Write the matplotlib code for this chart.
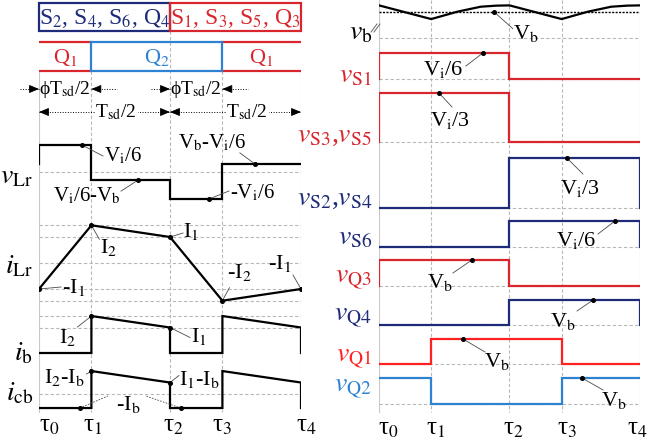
import matplotlib
matplotlib.use("Agg")
import matplotlib.pyplot as plt
from matplotlib.patches import Rectangle

plt.rcParams['font.family'] = ['Liberation Serif', 'DejaVu Serif']
plt.rcParams['mathtext.fontset'] = 'stix'

NAVY = '#1d2b78'
RED = '#d8262c'
RED2 = '#ff2020'
BLUE = '#2e82d2'
GRID = '#b8b8b8'
LEAD = '#4a4a4a'

# ---------------- data ----------------
tau = [0.0, 0.2, 0.5, 0.7, 1.0]
tau_labels = ['τ$_0$', 'τ$_1$', 'τ$_2$', 'τ$_3$', 'τ$_4$']

# v_Lr plateau in each interval (units of V_i/6, V_b ~ 1.3 V_i/6)
vLr_steps = [1.0, -0.3, -1.0, 0.3]
# currents in units of I_1
I1, I2, Ib = 1.0, 1.45, 0.55
iLr_pts = [-I1, I2, I1, -I2, -I1]
ib_start = [0, I2, 0, I2]
ib_end = [0, I1, 0, I1]
icb_start = [v - Ib for v in ib_start]
icb_end = [v - Ib for v in ib_end]

# battery voltage ripple (units of V_b)
vb_t = [0.0, 0.2, 0.3, 0.39, 0.45, 0.5, 0.7, 0.8, 0.89, 0.95, 1.0]
vb_vals = [1.24, 0.72, 1.0, 1.19, 1.23, 1.24, 0.72, 1.0, 1.19, 1.23, 1.24]

sw_labels = [r'$v_\mathrm{S1}$', r'$v_\mathrm{S3}$,$v_\mathrm{S5}$', r'$v_\mathrm{S2}$,$v_\mathrm{S4}$',
             r'$v_\mathrm{S6}$', r'$v_\mathrm{Q3}$', r'$v_\mathrm{Q4}$', r'$v_\mathrm{Q1}$', r'$v_\mathrm{Q2}$']
sw_states = [[1, 1, 0, 0], [1, 1, 0, 0], [0, 0, 1, 1], [0, 0, 1, 1],
             [1, 1, 0, 0], [0, 0, 1, 1], [0, 1, 1, 0], [1, 0, 0, 1]]
sw_amp = [1, 2, 2, 1, 1, 1, 1, 1]   # V_i/6 = 1, V_i/3 = 2, V_b drawn as 1
sw_notes = ['V$_\\mathrm{i}$/6', 'V$_\\mathrm{i}$/3', 'V$_\\mathrm{i}$/3', 'V$_\\mathrm{i}$/6',
            'V$_\\mathrm{b}$', 'V$_\\mathrm{b}$', 'V$_\\mathrm{b}$', 'V$_\\mathrm{b}$']
sw_note_t = [0.398, 0.23, 0.72, 0.904, 0.356, 0.82, 0.322, 0.778]

# ---------------- layout (pixels) ----------------
W_L, W_R = 262, 261
sw_colors = [RED, RED, NAVY, NAVY, RED, NAVY, RED2, BLUE]
sw_wrap = ['start', 'start', 'end', 'end', 'start', 'end', None, None]
sw_base = [79, 142, 208, 247, 286, 325, 364, 404]
sw_scale = [26, 24.5, 25, 26, 26, 25, 25, 26]
sw_lab_y = [82, 142, 205, 244, 283, 321, 362, 392]
sw_note_lead = [(-17, 13), (13, 14), (16, 16), (-17, 13), (-19, 13), (-16, 11), (22, 13), (21, 12)]
sw_note_txt = [(-19, 16), (11, 27), (13, 30), (-39, 19), (-32, 22), (-30, 21), (34, 22), (32, 22)]
sw_note_ha = ['right', 'center', 'center', 'center', 'center', 'center', 'center', 'center']

CH = {'vLr': (172, 27), 'iLr': (263, 26), 'ib': (353, 25.5), 'icb': (394, 25.5)}
LABEL_FS = 20


def Y(ch, v):
    base, sc = CH[ch]
    return base - sc * v


def step_path(t, starts, ends, wrap=None):
    xs, ys = [], []
    if wrap == 'start':
        xs.append(t[0]); ys.append(ends[-1])
    for k in range(len(starts)):
        xs += [t[k], t[k + 1]]
        ys += [starts[k], ends[k]]
    if wrap == 'end':
        xs.append(t[-1]); ys.append(starts[0])
    return xs, ys


def hgrid(ax, y):
    ax.plot([0, 1], [y, y], color=GRID, lw=0.8, ls=(0, (3, 2)), zorder=0)


def vgrid(ax, y0, y1, y2):
    for k, t in enumerate(tau):
        top = y2 if k == 2 else y0
        ls = '-' if k in (0, 4) else (0, (3, 2))
        col = '#c8c8c8' if k in (0, 4) else GRID
        ax.plot([t, t], [top, y1], color=col, lw=0.8, ls=ls, zorder=0)


def note(ax, W, t, y, text, lead, txt, ha, size=15):
    ax.plot([t, t + lead[0] / W], [y, y + lead[1]], color=LEAD, lw=0.6, zorder=3)
    ax.plot(t, y, 'o', ms=2.6, color='black', zorder=4)
    ax.text(t + txt[0] / W, y + txt[1], text, ha=ha, va='center', fontsize=size, zorder=5)


def head(ax, W, t, y, direction, col='black'):
    ax.annotate('', xy=(t, y), xytext=(t - direction * 9 / W, y),
                arrowprops=dict(arrowstyle='-|>,head_length=0.6,head_width=0.25',
                                color=col, lw=0.6, shrinkA=0, shrinkB=0))


fig = plt.figure(figsize=(6.51, 4.44), dpi=100)
axL = fig.add_axes([39 / 651, 0, W_L / 651, 1])
axR = fig.add_axes([379 / 651, 0, W_R / 651, 1])
for ax in (axL, axR):
    ax.set_xlim(0, 1)
    ax.set_ylim(444, 0)
    ax.axis('off')

# ================= left panel =================
ax = axL
vgrid(ax, 71, 412, 31)

# switch group boxes
ax.add_patch(Rectangle((tau[0], 3), tau[2] - tau[0], 28, fill=False, ec=NAVY, lw=1.6, clip_on=False))
ax.add_patch(Rectangle((tau[2], 3), tau[4] - tau[2], 28, fill=False, ec=RED, lw=1.6, clip_on=False))
ax.text((tau[0] + tau[2]) / 2, 18, 'S$_2$, S$_4$, S$_6$, Q$_4$', color=NAVY, fontsize=17, ha='center', va='center')
ax.text((tau[2] + tau[4]) / 2, 18, 'S$_1$, S$_3$, S$_5$, Q$_3$', color=RED, fontsize=17, ha='center', va='center')

# Q1/Q2 conduction row
for a, b in ((tau[0], tau[1]), (tau[3], tau[4])):
    ax.plot([a, b], [42, 42], color=RED, lw=1.6)
    ax.plot([a, b], [71, 71], color=RED, lw=1.6)
    ax.text((a + b) / 2, 57, 'Q$_1$', color=RED, fontsize=16, ha='center', va='center')
ax.add_patch(Rectangle((tau[1], 42), tau[3] - tau[1], 29, fill=False, ec=BLUE, lw=1.6, zorder=3))
ax.text((tau[1] + tau[3]) / 2, 57, 'Q$_2$', color=BLUE, fontsize=16, ha='center', va='center')

# phase shift and half period arrows
for a, b in ((tau[0], tau[1]), (tau[2], tau[3])):
    ax.plot([a - 19 / W_L, a], [89, 89], color='black', lw=0.7, ls=':', clip_on=False)
    ax.plot([b, b + 26 / W_L], [89, 89], color='black', lw=0.7, ls=':')
    head(ax, W_L, a, 89, 1)
    head(ax, W_L, b, 89, -1)
    ax.text((a + b) / 2, 89, 'ϕT$_\\mathrm{sd}$/2', fontsize=14, ha='center', va='center')
for a, m, b in ((tau[0], tau[1], tau[2]), (tau[2], tau[3], tau[4])):
    ax.plot([a, b], [112, 112], color='black', lw=0.7, ls=':')
    head(ax, W_L, a, 112, -1)
    head(ax, W_L, b, 112, 1)
    ax.text(m + 4 / W_L, 112, 'T$_\\mathrm{sd}$/2', fontsize=14, ha='left', va='center',
            bbox=dict(fc='white', ec='none', pad=0.5))

# gridlines
hgrid(ax, Y('vLr', 0))
for v in (I2, I1, 0, -I1, -I2):
    hgrid(ax, Y('iLr', v))
for v in (I2, I1):
    hgrid(ax, Y('ib', v))
hgrid(ax, Y('icb', 0))

# waveforms
xs, ys = step_path(tau, vLr_steps, vLr_steps, 'start')
ax.plot(xs, [Y('vLr', v) for v in ys], color='black', lw=1.6, solid_joinstyle='miter')
ax.plot(tau, [Y('iLr', v) for v in iLr_pts], color='black', lw=1.6)
xs, ys = step_path(tau, ib_start, ib_end, 'end')
ax.plot(xs, [Y('ib', v) for v in ys], color='black', lw=1.6, solid_joinstyle='miter')
xs, ys = step_path(tau, icb_start, icb_end, 'end')
ax.plot(xs, [Y('icb', v) for v in ys], color='black', lw=1.6, solid_joinstyle='miter')

# channel labels
for ch, text, yb in (('vLr', r'$v_\mathrm{Lr}$', 183), ('iLr', r'$i_\mathrm{Lr}$', 273),
                     ('ib', r'$i_\mathrm{b}$', 360), ('icb', r'$i_\mathrm{cb}$', 400)):
    ax.text(-6 / W_L, yb, text, fontsize=LABEL_FS, ha='right', va='baseline')

# annotations
note(ax, W_L, 0.164, Y('vLr', vLr_steps[0]), 'V$_\\mathrm{i}$/6', (21, 11), (22, 11), 'left')
note(ax, W_L, 0.378, Y('vLr', vLr_steps[1]), 'V$_\\mathrm{i}$/6-V$_\\mathrm{b}$', (-17, 11), (-17, 16), 'right')
note(ax, W_L, 0.824, Y('vLr', vLr_steps[3]), 'V$_\\mathrm{b}$-V$_\\mathrm{i}$/6', (-15, -11), (-43, -21), 'center')
note(ax, W_L, 0.649, Y('vLr', vLr_steps[2]), '-V$_\\mathrm{i}$/6', (20, -8), (21, -6), 'left')
note(ax, W_L, tau[1], Y('iLr', I2), 'I$_2$', (8, 14), (9, 22), 'left', 16)
note(ax, W_L, tau[2], Y('iLr', I1), 'I$_1$', (13, -4), (13, -6), 'left', 16)
note(ax, W_L, tau[0], Y('iLr', -I1), '-I$_1$', (22, -2), (23, -2), 'left', 16)
note(ax, W_L, tau[3], Y('iLr', -I2), '-I$_2$', (7, -13), (5, -28), 'left', 16)
note(ax, W_L, tau[4], Y('iLr', -I1), '-I$_1$', (-8, -14), (-21, -26), 'center', 16)
note(ax, W_L, tau[1], Y('ib', I2), 'I$_2$', (-14, 11), (-15, 21), 'right', 16)
note(ax, W_L, tau[2], Y('ib', I1), 'I$_1$', (20, 10), (21, 9), 'left', 16)
note(ax, W_L, tau[1], Y('icb', I2 - Ib), 'I$_2$-I$_\\mathrm{b}$', (-5, 3), (-6, 6), 'right', 16)
note(ax, W_L, tau[2], Y('icb', I1 - Ib), 'I$_1$-I$_\\mathrm{b}$', (9, -7), (9, -3), 'left', 16)
yIb = Y('icb', -Ib)
for t, dx in ((0.156, 28), (0.542, -35)):
    ax.plot([t, t + dx / W_L], [yIb, yIb - 12], color=LEAD, lw=0.6, ls=(0, (2, 1.5)))
    ax.plot(t, yIb, 'o', ms=2.6, color='black', zorder=4)
ax.text(0.34, yIb - 4, '-I$_\\mathrm{b}$', fontsize=16, ha='center', va='center')

for k, (t, lab) in enumerate(zip(tau, tau_labels)):
    ax.text(t + [10, 1, 3, 0, 5][k] / W_L, 432, lab, fontsize=18, ha='center', va='baseline')

# ================= right panel =================
ax = axR
vgrid(ax, 0, 412, 0)
VB0, VBS = 38, 26.3
hgrid(ax, VB0)
ax.plot([0, 1], [VB0 - VBS, VB0 - VBS], color='black', lw=1.0, ls=(0, (1.5, 1)))
ax.plot(vb_t, [VB0 - VBS * v for v in vb_vals], color='black', lw=1.6)
for dx in (-5, -2):
    ax.plot([(dx - 3) / W_R, (dx + 3) / W_R], [VB0 - 6, VB0 - 14], color='#666666', lw=0.7, clip_on=False)
ax.text(-7 / W_R, 39, r'$v_\mathrm{b}$', fontsize=LABEL_FS, ha='right', va='baseline')
note(ax, W_R, 0.44, VB0 - VBS * 1.0, 'V$_\\mathrm{b}$', (19, 17), (19, 22), 'left', 16)

for i in range(len(sw_labels)):
    base, sc = sw_base[i], sw_scale[i]
    hgrid(ax, base)
    lv = [sw_amp[i] * s for s in sw_states[i]]
    xs, ys = step_path(tau, lv, lv, sw_wrap[i])
    ax.plot(xs, [base - sc * v for v in ys], color=sw_colors[i], lw=1.6, solid_joinstyle='miter')
    ax.text(-7 / W_R, sw_lab_y[i], sw_labels[i], color=sw_colors[i], fontsize=LABEL_FS, ha='right', va='baseline')
    note(ax, W_R, sw_note_t[i], base - sc * sw_amp[i], sw_notes[i],
         sw_note_lead[i], sw_note_txt[i], sw_note_ha[i], 16)

for k, (t, lab) in enumerate(zip(tau, tau_labels)):
    ax.text(t + [9, 5, 4, 5, -3][k] / W_R, 435, lab, fontsize=18, ha='center', va='baseline')

fig.savefig('out.png', dpi=100)
